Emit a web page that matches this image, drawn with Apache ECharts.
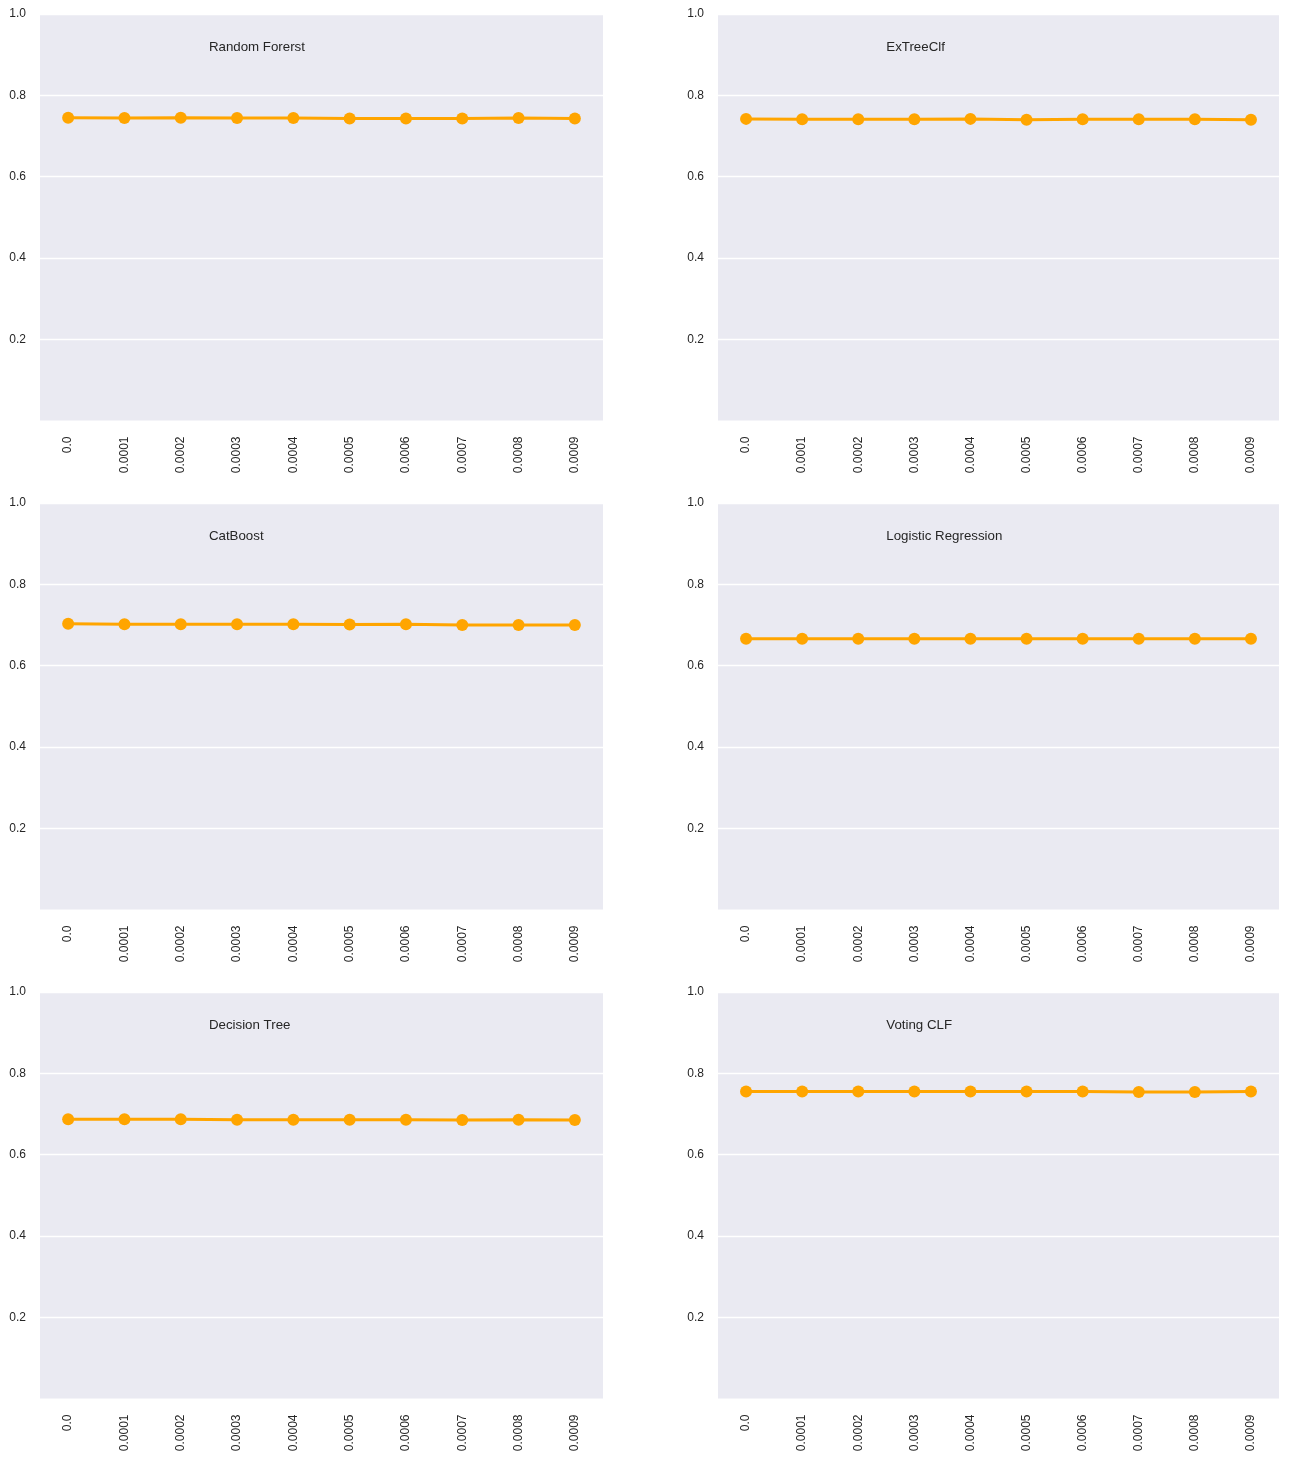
<!DOCTYPE html>
<html>
<head>
<meta charset="utf-8">
<script src="https://cdn.jsdelivr.net/npm/echarts@6/dist/echarts.min.js"></script>
<style>
html,body{margin:0;padding:0;background:#fff;}
#c{width:1290px;height:1460px;}
</style>
</head>
<body>
<div id="c"></div>
<script>
const categories = ['0.0','0.0001','0.0002','0.0003','0.0004','0.0005','0.0006','0.0007','0.0008','0.0009'];
const titles = ['Random Forerst','ExTreeClf','CatBoost','Logistic Regression','Decision Tree','Voting CLF'];
const randomForest = [0.745,0.744,0.745,0.744,0.744,0.743,0.743,0.743,0.744,0.743];
const exTreeClf = [0.742,0.741,0.741,0.741,0.742,0.740,0.741,0.741,0.741,0.740];
const catBoost = [0.703,0.702,0.702,0.702,0.702,0.701,0.702,0.700,0.700,0.700];
const logisticRegression = [0.666,0.666,0.666,0.666,0.666,0.666,0.666,0.666,0.666,0.666];
const decisionTree = [0.687,0.687,0.687,0.686,0.686,0.686,0.686,0.685,0.686,0.685];
const votingClf = [0.755,0.755,0.755,0.755,0.755,0.755,0.755,0.754,0.754,0.755];
const yTicks = [0, 0.2, 0.4, 0.6, 0.8, 1.0];

const seriesData = [randomForest, exTreeClf, catBoost, logisticRegression, decisionTree, votingClf];

const chart = echarts.init(document.getElementById('c'), null, {renderer:'canvas'});
const FONT = 'Liberation Sans, Arial, sans-serif';
const TXT = '#262626';
const lefts = [40, 718];
const widths = [563, 561];
const tops = [14, 503, 992];
const H = 406.5;

const grids = [], xAxes = [], yAxes = [], series = [], titleArr = [];
for (let i = 0; i < 6; i++) {
  const col = i % 2, row = Math.floor(i / 2);
  grids.push({left: lefts[col], top: tops[row], width: widths[col], height: H,
    show: true, backgroundColor: '#EAEAF2', borderWidth: 0, containLabel: false});
  xAxes.push({type: 'category', gridIndex: i, data: categories, boundaryGap: true,
    axisLine: {show: false}, axisTick: {show: false}, splitLine: {show: false},
    axisLabel: {rotate: 90, fontSize: 12, color: TXT, fontFamily: FONT, margin: 16, interval: 0}});
  yAxes.push({type: 'value', gridIndex: i, min: yTicks[0], max: yTicks[yTicks.length-1], interval: 0.2,
    axisLine: {show: false}, axisTick: {show: false},
    splitLine: {show: true, showMinLine: false, lineStyle: {color: '#ffffff', width: 1.3}},
    axisLabel: {fontSize: 12, color: TXT, fontFamily: FONT, margin: 14, showMinLabel: false,
      formatter: v => v.toFixed(1)}});
  series.push({type: 'line', xAxisIndex: i, yAxisIndex: i, data: seriesData[i],
    symbol: 'circle', symbolSize: 12, color: '#FFA500',
    lineStyle: {width: 3, color: '#FFA500'}, itemStyle: {color: '#FFA500'}, animation: false});
  titleArr.push({text: titles[i], left: lefts[col] + 0.3 * widths[col], top: tops[row] + 27,
    textStyle: {fontSize: 13.3, fontWeight: 'normal', color: TXT, fontFamily: FONT}, padding: 0});
}

chart.setOption({
  animation: false,
  backgroundColor: '#ffffff',
  title: titleArr,
  grid: grids,
  xAxis: xAxes,
  yAxis: yAxes,
  series: series
});
</script>
</body>
</html>
